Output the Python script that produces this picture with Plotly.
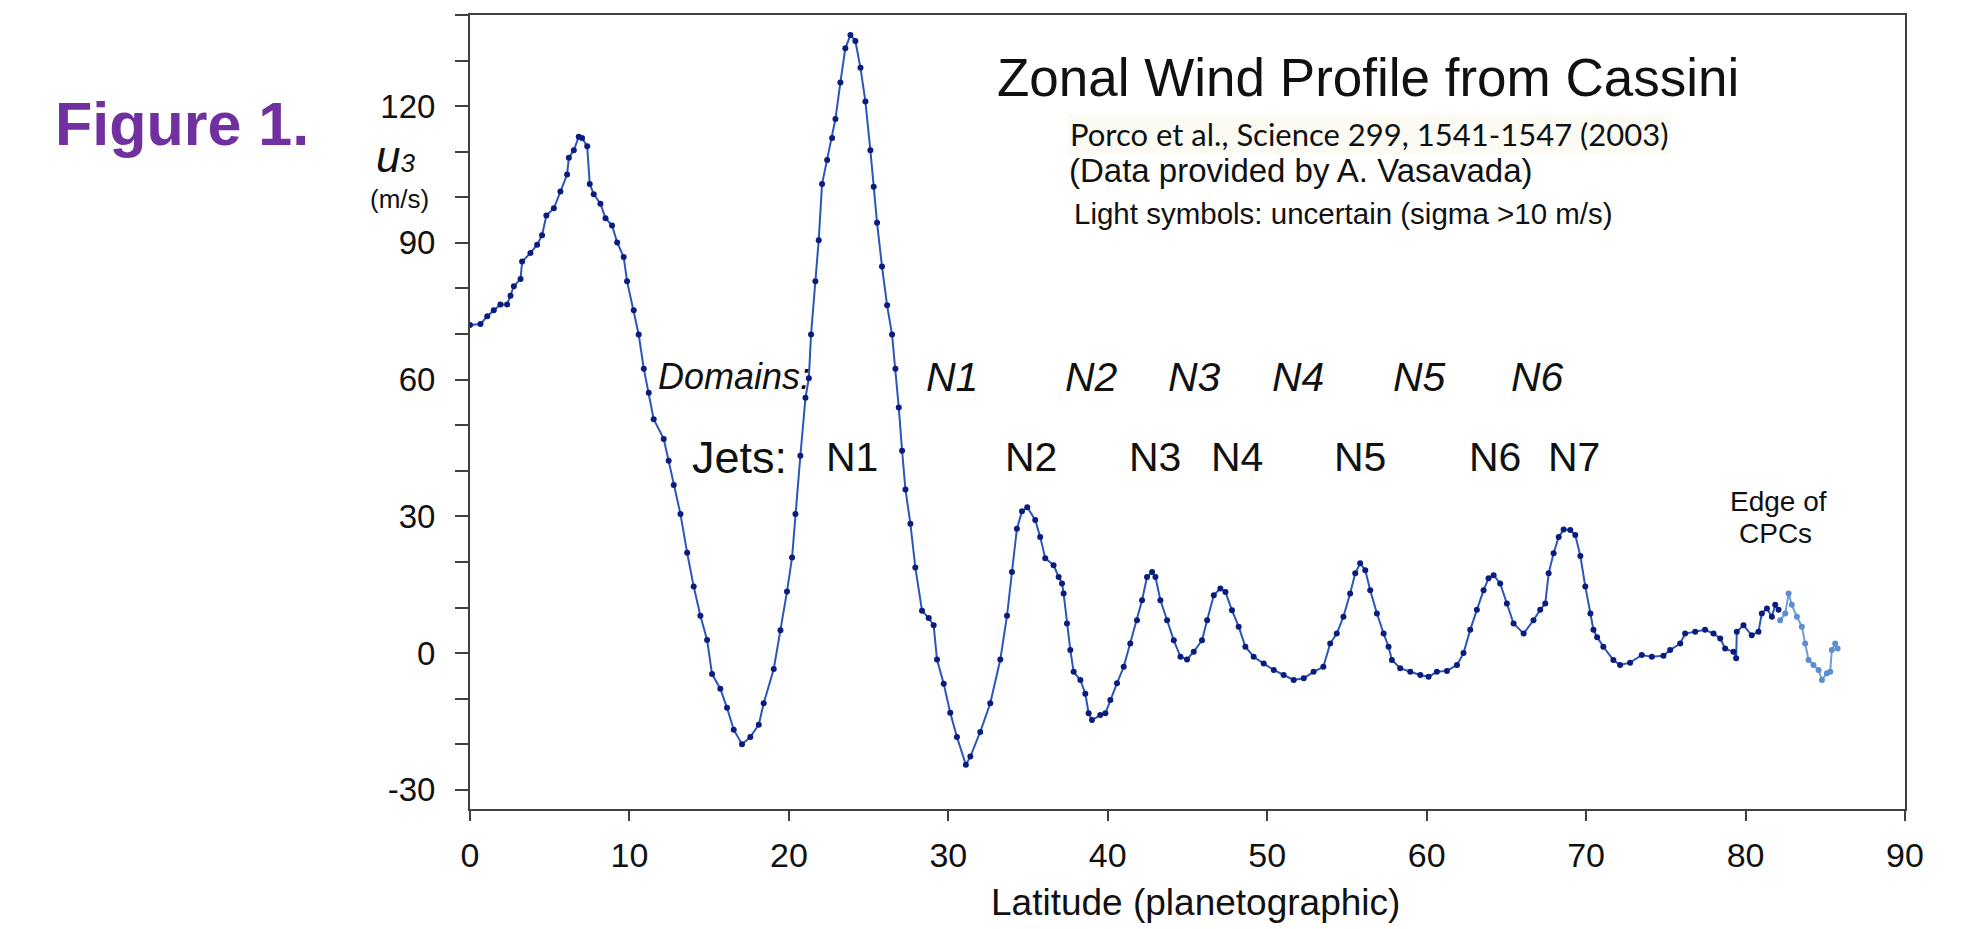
import plotly.graph_objects as go

# ---- data ----
lat_dark = [0.00, 0.66, 1.08, 1.49, 1.91, 2.33, 2.54, 2.75, 3.17, 3.27, 3.79, 4.21, 4.52, 4.79, 5.26,
            5.67, 6.09, 6.20, 6.51, 6.82, 7.03, 7.35, 7.51, 7.76, 8.18, 8.50, 8.91, 9.23, 9.64, 9.85,
            10.27, 10.58, 10.90, 11.21, 11.52, 12.15, 12.46, 12.78, 13.20, 13.62, 14.03, 14.45, 14.87,
            15.18, 15.70, 16.12, 16.54, 17.06, 17.58, 18.11, 18.42, 19.05, 19.47, 19.88, 20.20, 20.41,
            20.72, 21.04, 21.25, 21.39, 21.66, 21.87, 22.08, 22.40, 22.71, 22.92, 23.23, 23.54, 23.86,
            24.17, 24.49, 24.80, 25.11, 25.32, 25.53, 25.84, 26.16, 26.47, 26.68, 26.89, 27.10, 27.31,
            27.62, 27.93, 28.35, 28.77, 29.08, 29.29, 29.71, 30.12, 30.54, 31.10, 31.38, 32.00, 32.63,
            33.26, 33.68, 33.99, 34.30, 34.62, 34.95, 35.45, 35.76, 36.08, 36.60, 36.92, 37.13, 37.23,
            37.44, 37.65, 37.86, 38.28, 38.59, 38.80, 39.01, 39.53, 39.85, 40.16, 40.58, 41.00, 41.41,
            41.83, 42.15, 42.46, 42.78, 42.99, 43.30, 43.72, 44.14, 44.56, 44.97, 45.39, 45.91, 46.23,
            46.65, 47.06, 47.38, 47.79, 48.21, 48.63, 49.15, 49.78, 50.41, 51.03, 51.66, 52.29, 52.91,
            53.52, 53.95, 54.36, 54.78, 55.20, 55.52, 55.83, 56.15, 56.46, 56.88, 57.30, 57.61, 57.82,
            58.34, 58.97, 59.60, 60.12, 60.64, 61.27, 61.90, 62.31, 62.73, 63.15, 63.57, 63.88, 64.20,
            64.61, 65.03, 65.45, 66.08, 66.70, 67.12, 67.44, 67.65, 67.96, 68.28, 68.59, 69.01, 69.32,
            69.64, 69.95, 70.27, 70.46, 70.69, 71.08, 71.71, 72.13, 72.76, 73.49, 74.12, 74.85, 75.27,
            75.90, 76.21, 76.84, 77.46, 77.99, 78.41, 78.72, 79.24, 79.41, 79.45, 79.87, 80.39, 80.81,
            81.02, 81.34, 81.65, 81.86, 82.07]
u_dark = [72.0, 72.2, 73.9, 75.2, 76.5, 76.5, 78.4, 80.5, 82.1, 85.9, 87.8, 89.6, 91.7, 96.0, 97.6,
          101.3, 105.0, 108.7, 110.3, 113.3, 113.0, 111.2, 102.9, 100.7, 98.6, 95.4, 93.8, 90.1, 86.9, 81.6,
          75.2, 69.9, 62.4, 57.1, 51.3, 47.0, 42.2, 36.9, 30.5, 22.0, 14.6, 8.2, 2.9,
          -4.6, -7.8, -12.0, -16.8, -20.0, -18.4, -15.7, -11.0, -3.5, 5.0, 13.5, 21.0, 30.5,
          43.3, 56.0, 60.3, 69.9, 81.6, 90.6, 102.9, 108.2, 113.0, 117.2, 125.2, 132.7, 135.6,
          134.3, 128.4, 121.0, 110.3, 102.3, 94.4, 84.8, 76.3, 69.9, 62.4, 53.9, 44.4, 35.9,
          28.4, 18.8, 9.3, 7.7, 6.1, -1.4, -6.7, -13.1, -18.4, -24.5, -22.7, -17.3, -11.0,
          -1.4, 8.2, 17.8, 27.3, 31.1, 32.0, 29.2, 25.5, 20.8, 19.3, 16.7, 15.3, 13.1,
          6.5, 0.7, -4.1, -5.9, -8.9, -13.2, -14.7, -13.6, -13.2, -10.3, -6.6, -3.0, 2.1,
          7.2, 11.6, 16.7, 17.8, 16.7, 11.6, 7.2, 2.8, -0.8, -1.4, 0.3, 2.8, 7.2,
          12.7, 14.2, 13.4, 9.4, 5.8, 1.4, -0.8, -2.3, -3.7, -4.8, -5.9, -5.5, -4.1,
          -3.0, 2.1, 4.3, 8.0, 13.1, 17.5, 19.7, 18.2, 13.8, 8.7, 4.3, 1.4, -1.5,
          -3.3, -4.1, -4.8, -5.2, -4.1, -3.9, -2.6, 0.0, 5.1, 9.5, 13.8, 16.4, 17.1,
          15.3, 10.9, 6.5, 4.3, 7.2, 9.5, 10.9, 17.5, 21.9, 25.5, 27.1, 27.0, 25.9,
          21.3, 14.6, 8.7, 5.1, 3.5, 1.4, -1.5, -2.6, -2.1, -0.4, -0.8, -0.6, 0.7,
          2.1, 4.3, 4.7, 5.1, 4.3, 3.2, 1.0, 0.3, -1.1, 4.7, 6.1, 3.9, 4.7,
          8.7, 9.8, 8.0, 10.6, 9.5]

lat_light = [82.17, 82.49, 82.70, 82.90, 83.22, 83.53, 83.74, 83.95, 84.26, 84.58, 84.79, 85.10,
             85.31, 85.41, 85.62, 85.77]
u_light = [7.2, 8.7, 13.1, 10.6, 8.0, 5.8, 2.1, -1.5, -2.6, -3.7, -5.9, -4.4, -4.1, 0.7, 2.1, 1.0]

x_ticks = [0, 10, 20, 30, 40, 50, 60, 70, 80, 90]
y_ticks = [-30, 0, 30, 60, 90, 120]
y_tick_text = ["-30", "0", "30", "60", "90", "120"]

domain_labels = ["N1", "N2", "N3", "N4", "N5", "N6"]
jet_labels = ["N1", "N2", "N3", "N4", "N5", "N6", "N7"]

# ---- layout geometry (pixels) ----
W, H = 1976, 929
L, R, T, B = 470, 71, 15, 120
PW = W - L - R
PH = H - T - B


def px(X):
    return (X - L) / PW


def py(Y):
    return (H - B - Y) / PH


FONT = "Liberation Sans, Arial, sans-serif"
AX = "#404040"

fig = go.Figure()
fig.add_trace(go.Scatter(
    x=lat_dark, y=u_dark, mode="lines+markers",
    line=dict(color="#2a56bc", width=2),
    marker=dict(color="#0b1c7e", size=6),
    showlegend=False, hoverinfo="x+y"))
fig.add_trace(go.Scatter(
    x=lat_light, y=u_light, mode="lines+markers",
    line=dict(color="#6f9fd8", width=2),
    marker=dict(color="#5b8ed0", size=6),
    showlegend=False, hoverinfo="x+y"))

fig.update_xaxes(
    range=[0, 90], tickvals=x_ticks, ticks="outside", ticklen=10, tickwidth=2, tickcolor=AX,
    showline=True, linecolor=AX, linewidth=2, mirror=True, showgrid=False, zeroline=False,
    tickfont=dict(family=FONT, size=34, color="#111111"), ticklabelstandoff=5)
fig.update_yaxes(
    range=[-34.2, 140], tickvals=y_ticks, ticktext=y_tick_text, ticks="outside", ticklen=13,
    tickwidth=2, tickcolor=AX,
    minor=dict(dtick=10, tick0=0, ticks="outside", ticklen=13, tickwidth=2, tickcolor=AX),
    showline=True, linecolor=AX, linewidth=2, mirror=True, showgrid=False, zeroline=False,
    tickfont=dict(family=FONT, size=33, color="#111111"), ticklabelstandoff=13)

ann = []


def text(X, Y, s, size, color="#111111", family=FONT, xanchor="center", yanchor="middle", **kw):
    ann.append(dict(x=px(X), y=py(Y), xref="paper", yref="paper", text=s, showarrow=False,
                    xanchor=xanchor, yanchor=yanchor,
                    font=dict(family=family, size=size, color=color), **kw))


text(182, 124, "<b>Figure 1.</b>", 61, color="#7030a0")
text(395, 156, "<i>u</i><span style='font-size:26px'><i>3</i></span>", 44)
text(399, 199, "(m/s)", 26)
text(1195, 902, "Latitude (planetographic)", 37)

text(1368, 77, "Zonal Wind Profile from Cassini", 53)
text(1068, 134, "Porco et al., Science 299, 1541-1547 (2003)", 31, family="Lato, Carlito, sans-serif",
     xanchor="left", bgcolor="#fbfbf3")
text(1067, 170, "(Data provided by A. Vasavada)", 33, xanchor="left")
text(1072, 213, "Light symbols: uncertain (sigma >10 m/s)", 29.5, xanchor="left")

text(812, 377, "<i>Domains:</i>", 36, xanchor="right")
dom_x = [952, 1091, 1194, 1298, 1419, 1537]
for s, X in zip(domain_labels, dom_x):
    text(X, 377, "<i>" + s + "</i>", 41)

text(739, 457, "Jets:", 45)
jet_x = [852, 1031, 1155, 1237, 1360, 1495, 1574]
for s, X in zip(jet_labels, jet_x):
    text(X, 457, s, 41)

text(1778, 501, "Edge of", 28)
text(1775, 533, "CPCs", 28)

fig.update_layout(
    width=W, height=H, margin=dict(l=L, r=R, t=T, b=B, autoexpand=False),
    paper_bgcolor="white", plot_bgcolor="white", annotations=ann,
    font=dict(family=FONT))

fig.write_html("out.html")
